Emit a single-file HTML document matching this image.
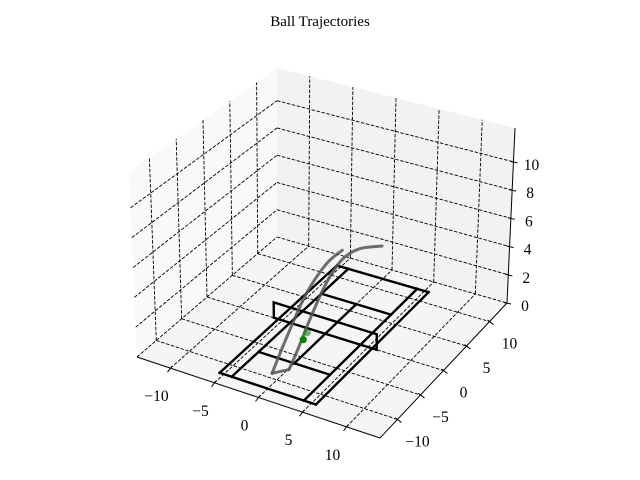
<!DOCTYPE html>
<html><head><meta charset="utf-8"><style>
body{margin:0;background:#fff}
svg{display:block}
text{font-family:"Liberation Serif","DejaVu Serif",serif;fill:#000}
</style></head><body>
<svg id="chart" width="640" height="480" viewBox="0 0 640 480">
<text x="320" y="26" text-anchor="middle" font-size="15">Ball Trajectories</text>
<g id="panes"></g>
<g id="grid"></g>
<g id="axes"></g>
<g id="court"></g>
<g id="traj"></g>
<g id="pts"></g>
</svg>
<script>
// ---- data ----
const xTicks = [-10, -5, 0, 5, 10];
const yTicks = [-10, -5, 0, 5, 10];
const zTicks = [0, 2, 4, 6, 8, 10];
const xTickLabels = ["\u221210", "\u22125", "0", "5", "10"];
const yTickLabels = ["\u221210", "\u22125", "0", "5", "10"];
const zTickLabels = ["0", "2", "4", "6", "8", "10"];
// court lines: [x1,y1,x2,y2]
const courtLines = [
  [-5.485,-11.885, 5.485,-11.885],
  [5.485,-11.885, 5.485,11.885],
  [5.485,11.885, -5.485,11.885],
  [-5.485,11.885, -5.485,-11.885],
  [-4.115,-11.885, -4.115,11.885],
  [4.115,-11.885, 4.115,11.885],
  [-4.115,-6.4, 4.115,-6.4],
  [-4.115,6.4, 4.115,6.4],
  [0,-6.4, 0,6.4]
];
const netHalfWidth = 6.0;
const netHeight = 1.07;
// trajectory 1
const traj1X = [-0.6, -0.6, -0.6, -0.6, -0.6];
const traj1Y = [-9.9, -6.9, -2.9, 1.2, 4.5];
const traj1Z = [0.3, 1.76, 3.5, 4.34, 4.3];
// trajectory 2 (first segment is the bounce)
const traj2X = [-0.6, 0.5, 0.64, 0.86, 1.15, 1.43, 1.73, 2.1];
const traj2Y = [-9.9, -8.4, -7.0, -4.8, -1.9, 0.9, 3.9, 7.9];
const traj2Z = [0.3, 0.3, 1.08, 2.56, 4.26, 5.13, 5.0, 4.0];
// ball points
const ptsX = [-1.68, -1.38];
const ptsY = [-0.75, -2.09];
const ptsZ = [0, 0];
const ptsOpacity = [0.55, 1];

// ---- projection ----
const xmin=-13.8,xmax=13.8,ymin=-13.8,ymax=13.8,zmax=12.4;
const bA=[137,357],bB=[380,438],bC=[507,303],bD=[277,237];
const tA=[129,172],tB=[380,252],tC=[515,128],tD=[277,68];
function bil(P,Q,R,S,u,v){
  const a=(1-u)*(1-v),b=u*(1-v),c=u*v,d=(1-u)*v;
  return [P[0]*a+Q[0]*b+R[0]*c+S[0]*d, P[1]*a+Q[1]*b+R[1]*c+S[1]*d];
}
function proj(x,y,z){
  const u=(x-xmin)/(xmax-xmin), v=(y-ymin)/(ymax-ymin), w=z/zmax;
  const b=bil(bA,bB,bC,bD,u,v), t=bil(tA,tB,tC,tD,u,v);
  return [b[0]+(t[0]-b[0])*w, b[1]+(t[1]-b[1])*w];
}
const NS="http://www.w3.org/2000/svg";
function mk(tag,parent,attrs){
  const e=document.createElementNS(NS,tag);
  for(const k in attrs) e.setAttribute(k,attrs[k]);
  parent.appendChild(e); return e;
}
function poly(pts){return pts.map(p=>p[0].toFixed(2)+","+p[1].toFixed(2)).join(" ");}
function line3(parent,a,b,attrs){
  const p=proj(...a),q=proj(...b);
  return mk("line",parent,Object.assign({x1:p[0],y1:p[1],x2:q[0],y2:q[1]},attrs));
}
function smoothPath(pts){
  let d="M"+pts[0][0].toFixed(2)+","+pts[0][1].toFixed(2);
  for(let i=0;i<pts.length-1;i++){
    const p0=pts[Math.max(i-1,0)],p1=pts[i],p2=pts[i+1],p3=pts[Math.min(i+2,pts.length-1)];
    const c1=[p1[0]+(p2[0]-p0[0])/6,p1[1]+(p2[1]-p0[1])/6];
    const c2=[p2[0]-(p3[0]-p1[0])/6,p2[1]-(p3[1]-p1[1])/6];
    d+=" C"+c1.map(v=>v.toFixed(2)).join(",")+" "+c2.map(v=>v.toFixed(2)).join(",")+" "+p2[0].toFixed(2)+","+p2[1].toFixed(2);
  }
  return d;
}

const panes=document.getElementById("panes");
let e;
e=mk("polygon",panes,{points:poly([proj(xmin,ymin,0),proj(xmin,ymax,0),proj(xmin,ymax,zmax),proj(xmin,ymin,zmax)]),fill:"#f9f9f9"});


e=mk("polygon",panes,{points:poly([proj(xmin,ymax,0),proj(xmax,ymax,0),proj(xmax,ymax,zmax),proj(xmin,ymax,zmax)]),fill:"#f2f2f2"});


e=mk("polygon",panes,{points:poly([proj(xmin,ymin,0),proj(xmax,ymin,0),proj(xmax,ymax,0),proj(xmin,ymax,0)]),fill:"#f5f5f5"});



const grid=document.getElementById("grid");
const gs={stroke:"#000","stroke-width":0.9,"stroke-dasharray":"3.5,1.6"};
xTicks.forEach(t=>{
  e=line3(grid,[t,ymin,0],[t,ymax,0],gs);
  
  
  e=line3(grid,[t,ymax,0],[t,ymax,zmax],gs);
  
  
});
yTicks.forEach(t=>{
  e=line3(grid,[xmin,t,0],[xmax,t,0],gs);
  
  
  e=line3(grid,[xmin,t,0],[xmin,t,zmax],gs);
  
  
});
zTicks.forEach(t=>{
  e=line3(grid,[xmin,ymin,t],[xmin,ymax,t],gs);
  
  
  e=line3(grid,[xmin,ymax,t],[xmax,ymax,t],gs);
  
  
});

const axes=document.getElementById("axes");
const as={stroke:"#000","stroke-width":1};
e=line3(axes,[xmin,ymin,0],[xmax,ymin,0],as);


e=line3(axes,[xmax,ymin,0],[xmax,ymax,0],as);


e=line3(axes,[xmax,ymax,0],[xmax,ymax,zmax],as);


xTicks.forEach((t,i)=>{
  const p=proj(t,ymin,0);
  e=mk("line",axes,{x1:p[0]+1.5,y1:p[1]-2,x2:p[0]-3,y2:p[1]+4,stroke:"#000","stroke-width":1});
  
  
  e=mk("text",axes,{x:p[0]-14,y:p[1]+33,"text-anchor":"middle","font-size":15.5});
  e.textContent=xTickLabels[i];
  
  
});
yTicks.forEach((t,i)=>{
  const p=proj(xmax,t,0);
  e=mk("line",axes,{x1:p[0]-2,y1:p[1]-1.5,x2:p[0]+4,y2:p[1]+3,stroke:"#000","stroke-width":1});
  
  
  e=mk("text",axes,{x:p[0]+20,y:p[1]+27,"text-anchor":"middle","font-size":15.5});
  e.textContent=yTickLabels[i];
  
  
});
zTicks.forEach((t,i)=>{
  const p=proj(xmax,ymax,t);
  e=mk("line",axes,{x1:p[0]-3,y1:p[1]-0.5,x2:p[0]+4,y2:p[1]+1,stroke:"#000","stroke-width":1});
  
  
  e=mk("text",axes,{x:p[0]+18,y:p[1]+8,"text-anchor":"middle","font-size":15.5});
  e.textContent=zTickLabels[i];
  
  
});

const court=document.getElementById("court");
const cs={stroke:"#000","stroke-width":2.4,"stroke-linecap":"square"};
courtLines.forEach(l=>{
  e=line3(court,[l[0],l[1],0],[l[2],l[3],0],cs);
  
  
});
e=mk("polygon",court,{points:poly([proj(-netHalfWidth,0,0),proj(netHalfWidth,0,0),proj(netHalfWidth,0,netHeight),proj(-netHalfWidth,0,netHeight)]),fill:"none",stroke:"#000","stroke-width":2.4});



const traj=document.getElementById("traj");
function drawTraj(X,Y,Z,bounceIdx){
  const pts=X.map((x,i)=>proj(x,Y[i],Z[i]));
  const g=mk("g",traj,{});
  const st={fill:"none",stroke:"#555","stroke-opacity":0.85,"stroke-width":3,"stroke-linejoin":"round","stroke-linecap":"round"};
  if(bounceIdx>0){
    mk("path",g,Object.assign({d:smoothPath(pts.slice(0,bounceIdx+1))},st));
    mk("path",g,Object.assign({d:smoothPath(pts.slice(bounceIdx))},st));
  } else {
    mk("path",g,Object.assign({d:smoothPath(pts)},st));
  }
  return g;
}
e=drawTraj(traj1X,traj1Y,traj1Z,0);


e=drawTraj(traj2X,traj2Y,traj2Z,1);



const ptsG=document.getElementById("pts");
ptsX.forEach((x,i)=>{
  const p=proj(x,ptsY[i],ptsZ[i]);
  e=mk("circle",ptsG,{cx:p[0],cy:p[1],r:3.6,fill:"#008000","fill-opacity":ptsOpacity[i]});
  
  
});
</script>
</body></html>
